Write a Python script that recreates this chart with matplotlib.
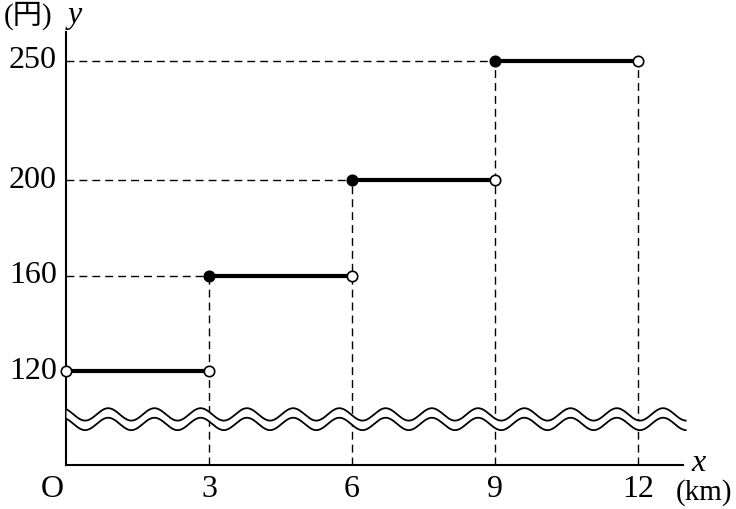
import numpy as np
import matplotlib
matplotlib.use("Agg")
import matplotlib.pyplot as plt

plt.rcParams['font.family'] = ['Liberation Serif', 'Noto Sans CJK JP']

# fare table: distance band [start, end) -> fare
starts = [0, 3, 6, 9]
ends = [3, 6, 9, 12]
fares = [120, 160, 200, 250]
xticks = [3, 6, 9, 12]
yticks = [120, 160, 200, 250]

fig = plt.figure(figsize=(7.36, 5.09), dpi=100)
ax = fig.add_axes([0, 0, 1, 1])
ax.set_xlim(-1.385, 14.055)
ax.set_ylim(62.13, 275.58)
ax.axis('off')

y_bot = 80.58
x_end = 12.94

# axes
ax.plot([0, 0], [y_bot, 262.2], color='black', lw=1.5, zorder=2)
ax.plot([0, x_end], [y_bot, y_bot], color='black', lw=1.5, zorder=2)

dash = dict(color='black', lw=1.0, ls=(0, (5.7, 3.6)), zorder=1)

# steps
for i, (s, e, f) in enumerate(zip(starts, ends, fares)):
    ax.plot([s, e], [f, f], color='black', lw=3, zorder=3, solid_capstyle='butt')
    if s > 0:
        ax.plot([0, s], [f, f], **dash)
    # vertical guide from the higher of this / next level
    top = fares[i + 1] if i + 1 < len(fares) else f
    ax.plot([e, e], [y_bot, top], **dash)
    # left end: closed except the first band
    if i == 0:
        ax.plot(s, f, 'o', ms=7.5, mfc='white', mec='black', mew=1.2, zorder=5)
    else:
        ax.plot(s, f, 'o', ms=7.5, mfc='black', mec='black', mew=1.2, zorder=5)
    ax.plot(e, f, 'o', ms=7.5, mfc='white', mec='black', mew=1.2, zorder=5)

# axis break (wavy band)
xw = np.linspace(0, 13.0, 600)
period = 0.97
amp = 2.6
up = 101.8 - amp * np.cos(2 * np.pi * (xw - 0.4) / period)
lo = 97.8 - amp * np.cos(2 * np.pi * (xw - 0.4) / period)
ax.fill_between(xw, lo, up, color='white', zorder=4, lw=0)
ax.plot(xw, up, color='black', lw=1.3, zorder=4)
ax.plot(xw, lo, color='black', lw=1.3, zorder=4)

fs = 23
for t in xticks:
    ax.text(t, 70.1, str(t), ha='center', va='center', fontsize=fs)
ax.text(-0.29, 70.1, 'O', ha='center', va='center', fontsize=fs)
for t in yticks:
    ax.text(-0.19, t, str(t), ha='right', va='center', fontsize=fs)

ax.text(-0.80, 268.9, '(円)', ha='center', va='center', fontsize=21)
ax.text(0.04, 269.1, 'y', ha='left', va='center', fontsize=fs, style='italic')
ax.text(13.26, 81.4, 'x', ha='center', va='center', fontsize=fs, style='italic')
ax.text(13.38, 68.9, '(km)', ha='center', va='center', fontsize=21)

fig.savefig('out.png', dpi=100)
